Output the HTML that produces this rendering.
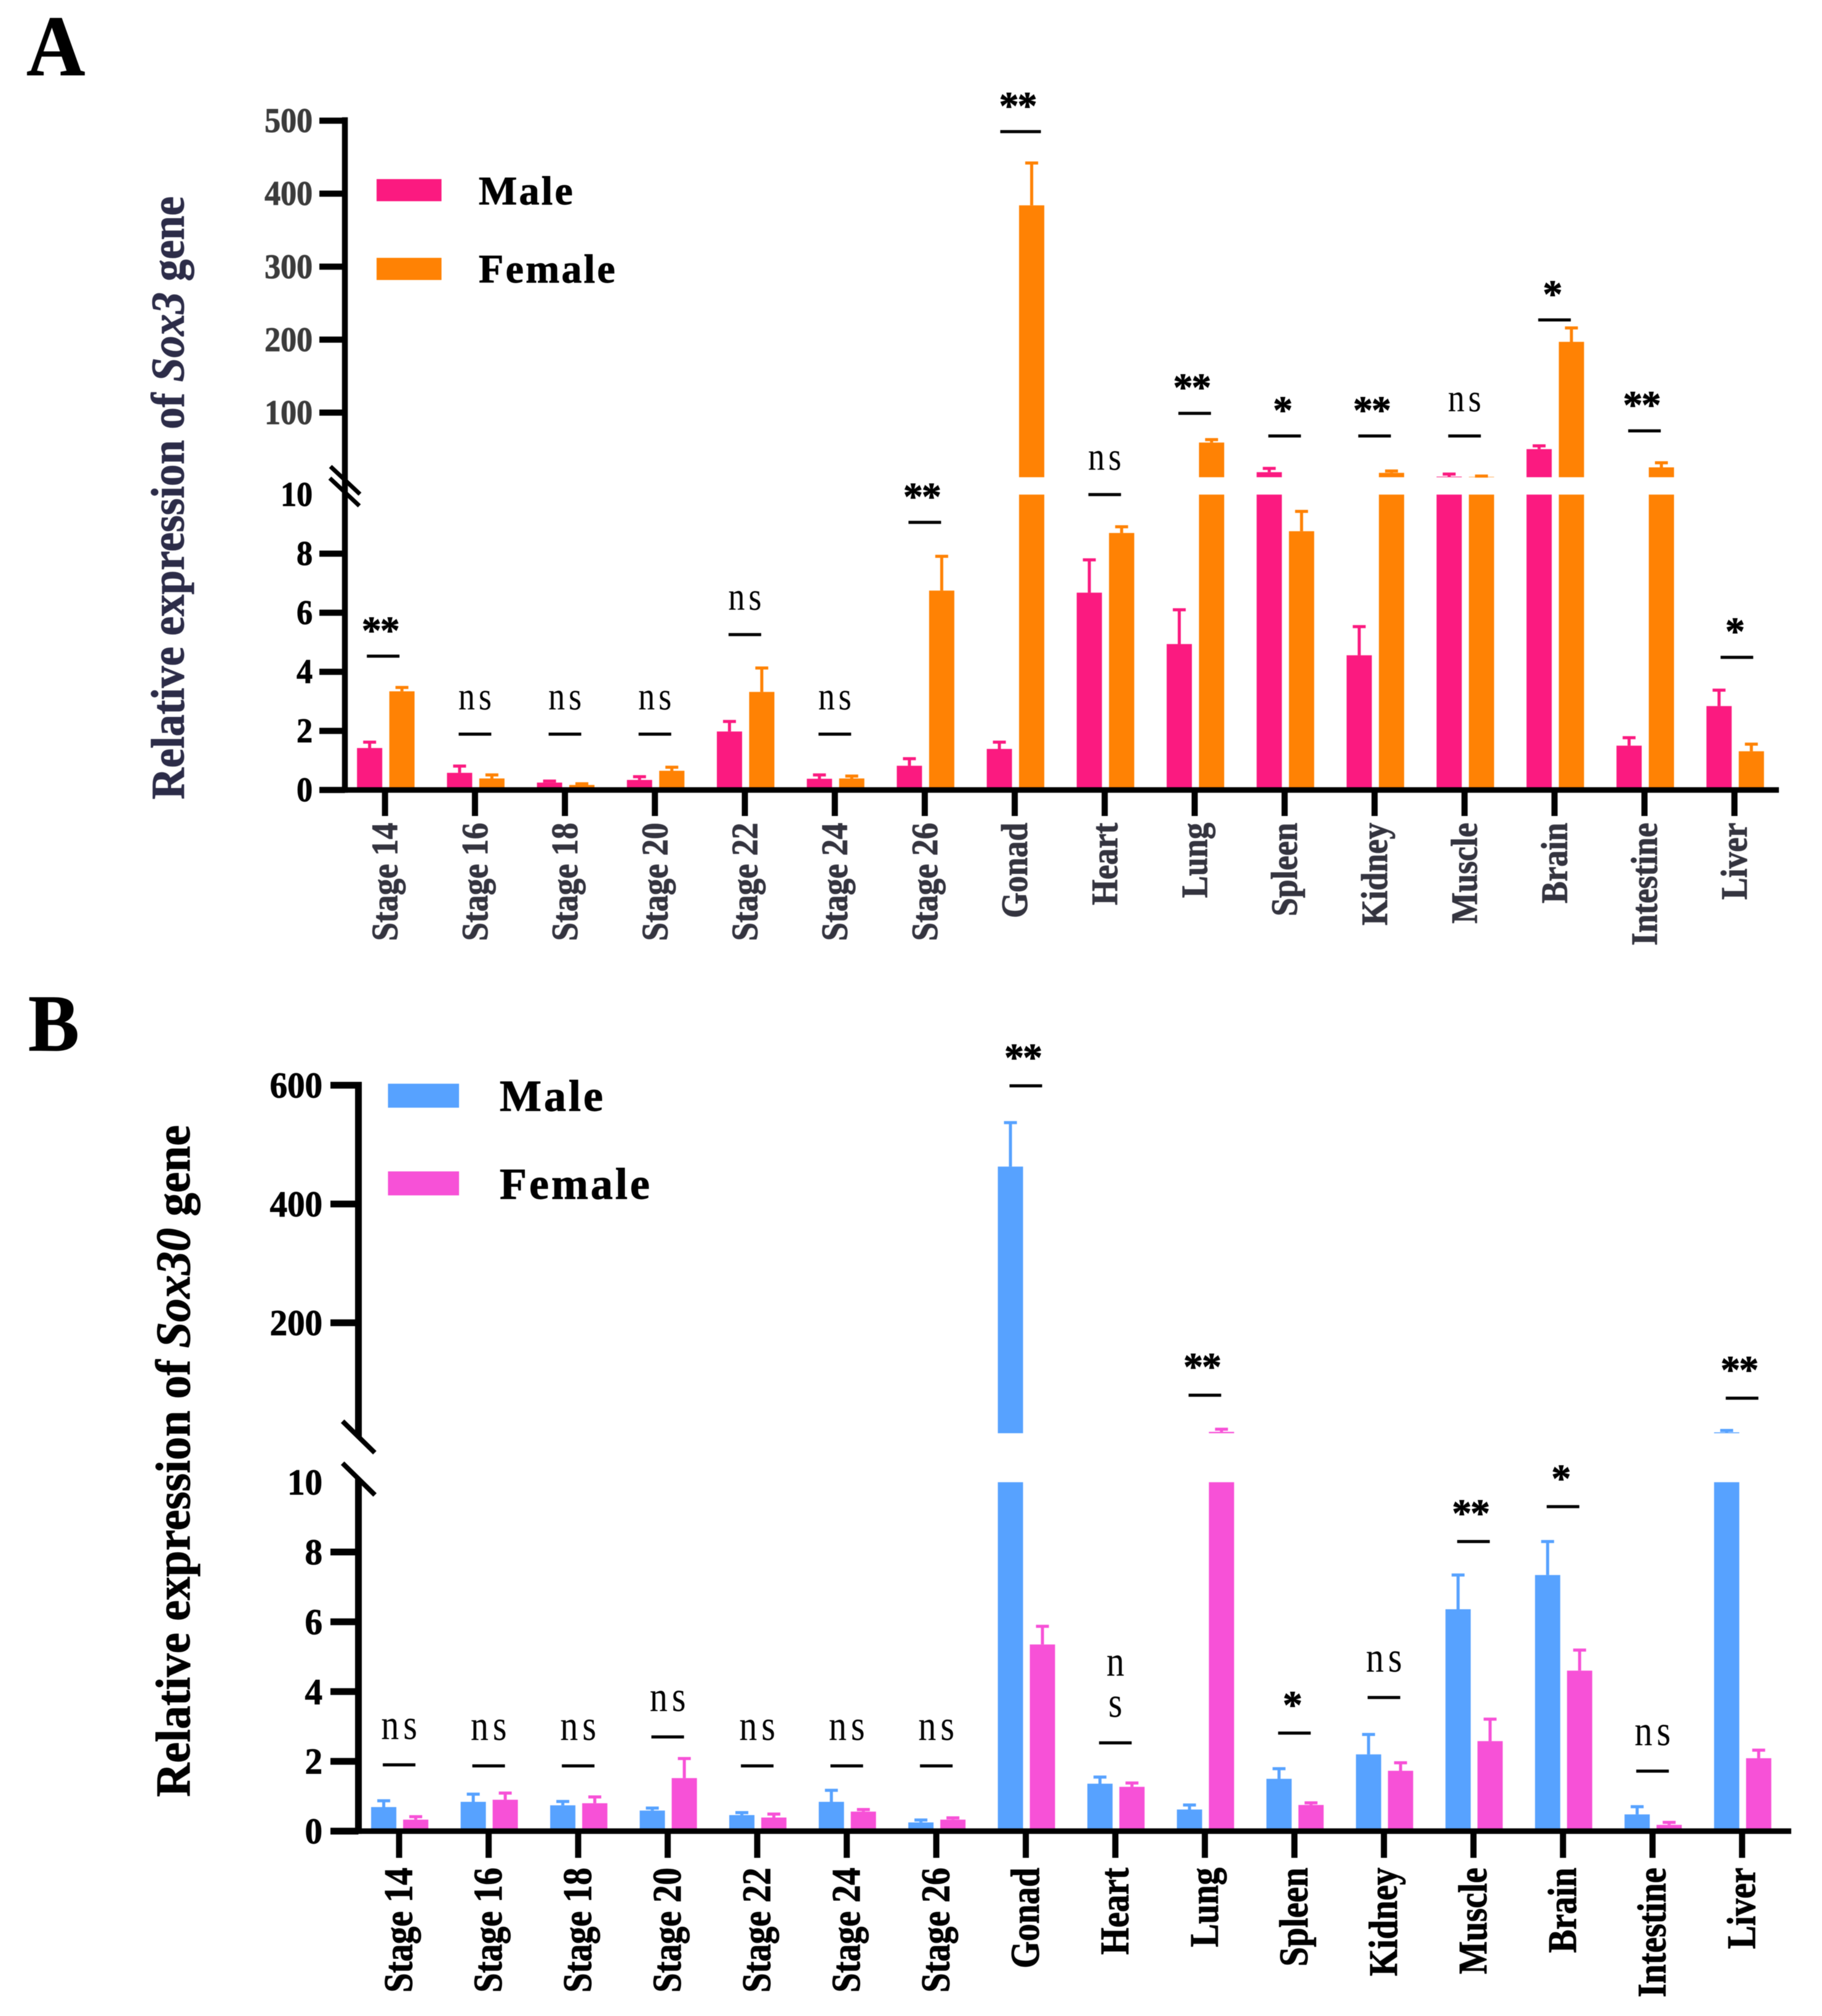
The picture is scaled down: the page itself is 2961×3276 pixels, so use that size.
<!DOCTYPE html>
<html lang="en">
<head>
<meta charset="utf-8">
<title>Relative expression of Sox3 and Sox30</title>
<style>
html,body{margin:0;padding:0;background:#fff;}
svg{display:block;filter:blur(.6px);}
text{font-family:"Liberation Serif","DejaVu Serif",serif;}
</style>
</head>
<body>
<svg id="figure" xmlns="http://www.w3.org/2000/svg" width="2961" height="3276" viewBox="0 0 2961 3276">
<rect x="0" y="0" width="2961" height="3276" fill="#ffffff"/>
</svg>
<script>
const categories = ['Stage 14','Stage 16','Stage 18','Stage 20','Stage 22','Stage 24','Stage 26','Gonad','Heart','Lung','Spleen','Kidney','Muscle','Brain','Intestine','Liver'];

const sox3Male        = [1.42,0.58,0.25,0.34,1.98,0.38,0.82,1.39,6.68,4.94,18.4,4.56,12.3,50,1.5,2.84];
const sox3MaleUpper   = [1.62,0.81,0.30,0.45,2.32,0.51,1.06,1.62,7.79,6.10,23.6,5.53,15.8,54.5,1.77,3.38];
const sox3Female      = [3.34,0.39,0.17,0.65,3.32,0.39,6.75,384,8.70,59,8.76,17.5,12.0,197,25,1.31];
const sox3FemaleUpper = [3.47,0.51,0.21,0.77,4.13,0.47,7.91,442,8.91,63.0,9.43,20.0,13.1,216,31.3,1.55];
const sox3Sig         = ['**','ns','ns','ns','ns','ns','**','**','ns','**','*','**','ns','*','**','*'];
const sox3SigLevel    = [4.53,1.89,1.89,1.89,5.26,1.89,9.06,485,10,99,68,68,68,227,75,4.49];
const sox3TicksUpper  = [100,200,300,400,500];
const sox3TicksLower  = [0,2,4,6,8,10];

const sox30Male        = [0.69,0.84,0.74,0.59,0.46,0.84,0.25,463,1.36,0.62,1.5,2.2,6.36,7.34,0.48,15.5];
const sox30MaleUpper   = [0.87,1.06,0.85,0.66,0.53,1.17,0.32,537,1.55,0.75,1.79,2.77,7.34,8.30,0.70,18.7];
const sox30Female      = [0.33,0.9,0.8,1.52,0.39,0.56,0.33,5.35,1.27,16.3,0.75,1.73,2.58,4.6,0.18,2.09];
const sox30FemaleUpper = [0.415,1.09,0.98,2.08,0.49,0.62,0.38,5.87,1.38,20.7,0.81,1.96,3.21,5.19,0.25,2.32];
const sox30Sig         = ['ns','ns','ns','ns','ns','ns','ns','**','ns','**','*','ns','**','*','ns','**'];
const sox30SigLevel    = [1.9,1.87,1.87,2.7,1.87,1.87,1.87,599,2.53,78,2.81,3.83,8.3,9.3,1.72,73];
const sox30TicksUpper  = [200,400,600];
const sox30TicksLower  = [0,2,4,6,8,10];

const NS = 'http://www.w3.org/2000/svg';
const svg = document.getElementById('figure');

function mk(tag, attrs, parent) {
  const n = document.createElementNS(NS, tag);
  for (const k in attrs) n.setAttribute(k, attrs[k]);
  parent.appendChild(n);
  return n;
}
function label(parent, str, x, y, o) {
  const weight = o.weight || 'bold';
  const fill = o.fill || '#000';
  const t = mk('text', {
    'font-size': o.size,
    'font-weight': weight,
    'text-anchor': o.anchor || 'start',
    fill: fill,
    transform: 'translate(' + x + ',' + y + ')' + (o.rot ? ' rotate(' + o.rot + ')' : '') + ' scale(' + (o.sx || 1) + ',' + (o.sy || 1) + ')'
  }, parent);
  if (weight === 'bold') {
    t.setAttribute('stroke', fill);
    t.setAttribute('stroke-width', '0.9');
  }
  if (o.spacing) t.setAttribute('letter-spacing', o.spacing);
  t.textContent = str;
  return t;
}

function drawPanel(c) {
  const g = mk('g', {}, svg);
  
  

  const xTick = i => c.x0 + i * c.step;
  const yLow = v => c.zeroY - Math.min(v, c.lowMax) * c.lowScale;
  const yUp = v => Math.min(c.upBaseY, c.upRefY - (v - c.upRefV) * c.upScale);
  const yAny = v => (v <= c.lowMax ? yLow(v) : yUp(v));

  // bars
  function bar(i, mean, upper, offset, color, series) {
    const cx = xTick(i) + offset;
    const bw = c.barW;
    const low = mk('rect', {x: cx - bw / 2, y: yLow(mean), width: bw, height: c.zeroY - yLow(mean), fill: color}, g);
    
    
    if (mean > c.lowMax) {
      const up = mk('rect', {x: cx - bw / 2, y: yUp(mean), width: bw, height: c.upBaseY - yUp(mean), fill: color}, g);
      
      
    }
    const yM = yAny(mean), yE = yAny(upper);
    const eb = mk('path', {
      d: 'M' + cx + ' ' + yM + 'V' + yE + 'M' + (cx - 10.5) + ' ' + yE + 'H' + (cx + 10.5),
      stroke: color, 'stroke-width': 5, fill: 'none'
    }, g);
    
    
  }
  categories.forEach((cat, i) => {
    bar(i, c.male[i], c.maleUp[i], c.maleOff, c.maleColor, 'male');
    bar(i, c.female[i], c.femaleUp[i], c.femaleOff, c.femaleColor, 'female');
  });

  // y axis
  const topY = c.upRefY - (c.ticksUpper[c.ticksUpper.length - 1] - c.upRefV) * c.upScale - 5.5;
  if (c.continuous) {
    const ax = mk('rect', {x: c.axisX - c.axisW / 2, y: topY, width: c.axisW, height: c.zeroY + 4.5 - topY, fill: '#000'}, g);
    
    
  } else {
    const ax1 = mk('rect', {x: c.axisX - c.axisW / 2, y: topY, width: c.axisW, height: c.axisUpEnd - topY, fill: '#000'}, g);
    
    
    const ax2 = mk('rect', {x: c.axisX - c.axisW / 2, y: c.axisLowStart, width: c.axisW, height: c.zeroY + 4.5 - c.axisLowStart, fill: '#000'}, g);
    
    
  }
  c.breaks.forEach((b, k) => {
    const line = mk('line', {x1: b[0], y1: b[1], x2: b[2], y2: b[3], stroke: '#000', 'stroke-width': c.breakW}, g);
    
    
  });

  // y ticks
  function yTick(v, y, color, part) {
    if (!(v === c.lowMax && part === 'lower')) {
      const t = mk('rect', {x: c.tickLeft, y: y - c.yTickW / 2, width: c.axisX - c.tickLeft, height: c.yTickW, fill: '#000'}, g);
      
      
    }
    const l = label(g, String(v), c.labelRight, y + c.yLabelDy, {size: c.yLabelSize, anchor: 'end', fill: color, sy: c.yLabelSy});
    
    
  }
  c.ticksUpper.forEach(v => yTick(v, c.upRefY - (v - c.upRefV) * c.upScale, c.upperLabelColor, 'upper'));
  c.ticksLower.forEach(v => yTick(v, yLow(v), '#000', 'lower'));

  // x axis
  const xa = mk('rect', {x: c.tickLeft, y: c.zeroY - 4.5, width: c.xAxisEnd - c.tickLeft, height: 9, fill: '#000'}, g);
  
  

  categories.forEach((cat, i) => {
    const x = xTick(i);
    const t = mk('rect', {x: x - 5, y: c.zeroY, width: 10, height: c.xTickEnd - c.zeroY, fill: '#000'}, g);
    
    
    const l = label(g, cat, x + c.xLabelDx, c.xLabelTop, {size: c.xLabelSize, anchor: 'end', rot: -90, sy: c.xLabelSy, fill: c.xLabelColor});
    
    
  });

  // significance annotations
  c.sig.forEach((s, i) => {
    const nudge = c.nudges[categories[i]] || {};
    const cx = xTick(i) + (nudge.dx || 0);
    const w = nudge.w || 53;
    const y = yAny(c.sigLevel[i]);
    const slug = categories[i].toLowerCase().replace(' ', '-');
    const br = mk('rect', {x: cx - w / 2, y: y - 2.5, width: w, height: 5, fill: '#000'}, g);
    
    
    if (s === 'ns') {
      if (nudge.stacked) {
        const n1 = label(g, 'n', cx, y - c.nsGap - nudge.stacked, {size: c.nsSize, weight: 'normal', anchor: 'middle', sy: c.nsSy});
        
        
        const n2 = label(g, 's', cx, y - c.nsGap, {size: c.nsSize, weight: 'normal', anchor: 'middle', sy: c.nsSy});
        
        
      } else {
        const n = label(g, 'ns', cx + c.nsSpacing / 2, y - c.nsGap, {size: c.nsSize, weight: 'normal', anchor: 'middle', sy: c.nsSy, spacing: c.nsSpacing});
        
        
      }
    } else {
      const dx = s === '**' ? -5 : -3;
      const a = label(g, s, cx + dx, y - c.starGap + 31, {size: 64, anchor: 'middle', spacing: s === '**' ? -2 : 0});
      
      
    }
  });

  // legend
  const leg = [['Male', c.maleColor, c.legendY1, c.legendText1], ['Female', c.femaleColor, c.legendY2, c.legendText2]];
  leg.forEach(e => {
    const sw = mk('rect', {x: c.legendX, y: e[2], width: c.legendW, height: c.legendH, fill: e[1]}, g);
    
    
    const lt = label(g, e[0], c.legendTextX, e[3], {size: c.legendSize, spacing: c.legendSpacing});
    
    
  });

  // y axis title
  const title = mk('text', {'font-size': c.titleSize, 'font-weight': 'bold', fill: c.titleColor, stroke: c.titleColor, 'stroke-width': 0.9}, g);
  
  
  title.appendChild(document.createTextNode('Relative expression of '));
  const gene = mk('tspan', {'font-style': 'italic'}, title);
  gene.textContent = c.gene;
  title.appendChild(document.createTextNode(' gene'));
  const len = title.getComputedTextLength() || 1;
  title.setAttribute('transform', 'translate(' + c.titleX + ',' + c.titleBottom + ') rotate(-90) scale(' + (c.titleLen / len) + ',' + c.titleSy + ')');

  // panel letter
  const letter = label(g, c.letter, c.letterX, c.letterY, {size: c.letterSize, sy: c.letterSy});
  
  
}

drawPanel({
  name: 'panel-a-sox3', letter: 'A', letterX: 43, letterY: 122, letterSize: 132, letterSy: 1.06, gene: 'Sox3',
  male: sox3Male, maleUp: sox3MaleUpper, female: sox3Female, femaleUp: sox3FemaleUpper,
  sig: sox3Sig, sigLevel: sox3SigLevel, ticksUpper: sox3TicksUpper, ticksLower: sox3TicksLower,
  maleColor: '#FB1A80', femaleColor: '#FF8204',
  x0: 625.7, step: 146.2, barW: 41, maleOff: -25, femaleOff: 27.5,
  zeroY: 1283.7, lowMax: 10, lowScale: 48, upBaseY: 775.5, upRefY: 670.5, upRefV: 100, upScale: 1.186,
  continuous: true, axisX: 560.5, axisW: 9.5, tickLeft: 519, yTickW: 10, xAxisEnd: 2891, xTickEnd: 1326,
  breaks: [[537, 758, 585, 803], [536, 777, 584, 822]], breakW: 7,
  labelRight: 508, yLabelDy: 18.5, yLabelSize: 52, yLabelSy: 1.07, upperLabelColor: '#3b3b3b',
  xLabelDx: 20, xLabelTop: 1337, xLabelSize: 53.6, xLabelSy: 1.13, xLabelColor: '#34343f',
  nudges: {'Stage 14': {dx: -3}, 'Gonad': {dx: 9.5, w: 66}, 'Liver': {dx: 4}},
  nsGap: 40, nsSize: 54, nsSy: 1.2, nsSpacing: 6, starGap: 52,
  legendX: 612, legendW: 105.5, legendH: 36, legendY1: 291, legendY2: 419, legendTextX: 778, legendText1: 332, legendText2: 459, legendSize: 66, legendSpacing: 3.3,
  titleSize: 72, titleColor: '#2c2c48', titleX: 298.5, titleBottom: 1299, titleLen: 980, titleSy: 1.06
});

drawPanel({
  name: 'panel-b-sox30', letter: 'B', letterX: 46, letterY: 1707, letterSize: 124, letterSy: 1.06, gene: 'Sox30',
  male: sox30Male, maleUp: sox30MaleUpper, female: sox30Female, femaleUp: sox30FemaleUpper,
  sig: sox30Sig, sigLevel: sox30SigLevel, ticksUpper: sox30TicksUpper, ticksLower: sox30TicksLower,
  maleColor: '#57A2FF', femaleColor: '#F751D7',
  x0: 648.6, step: 145.5, barW: 41, maleOff: -25, femaleOff: 27,
  zeroY: 2975.6, lowMax: 10, lowScale: 56.7, upBaseY: 2329, upRefY: 1763.5, upRefV: 600, upScale: 0.965,
  continuous: false, axisX: 582.5, axisW: 11, axisUpEnd: 2335, axisLowStart: 2403, tickLeft: 537, yTickW: 11, xAxisEnd: 2911, xTickEnd: 3019,
  breaks: [[556.7, 2309.5, 609, 2360.7], [556.7, 2377.7, 609.3, 2429.3]], breakW: 8,
  labelRight: 524, yLabelDy: 20, yLabelSize: 57, yLabelSy: 1.04, upperLabelColor: '#000',
  xLabelDx: 21, xLabelTop: 3035, xLabelSize: 56.6, xLabelSy: 1.16, xLabelColor: '#000',
  nudges: {'Heart': {stacked: 67}},
  nsGap: 42, nsSize: 58, nsSy: 1.2, nsSpacing: 7, starGap: 56,
  legendX: 630.5, legendW: 115.5, legendH: 39, legendY1: 1761, legendY2: 1903.5, legendTextX: 812, legendText1: 1805, legendText2: 1948, legendSize: 72, legendSpacing: 4,
  titleSize: 76, titleColor: '#000', titleX: 308, titleBottom: 2920, titleLen: 1092, titleSy: 1.04
});
</script>
</body>
</html>
